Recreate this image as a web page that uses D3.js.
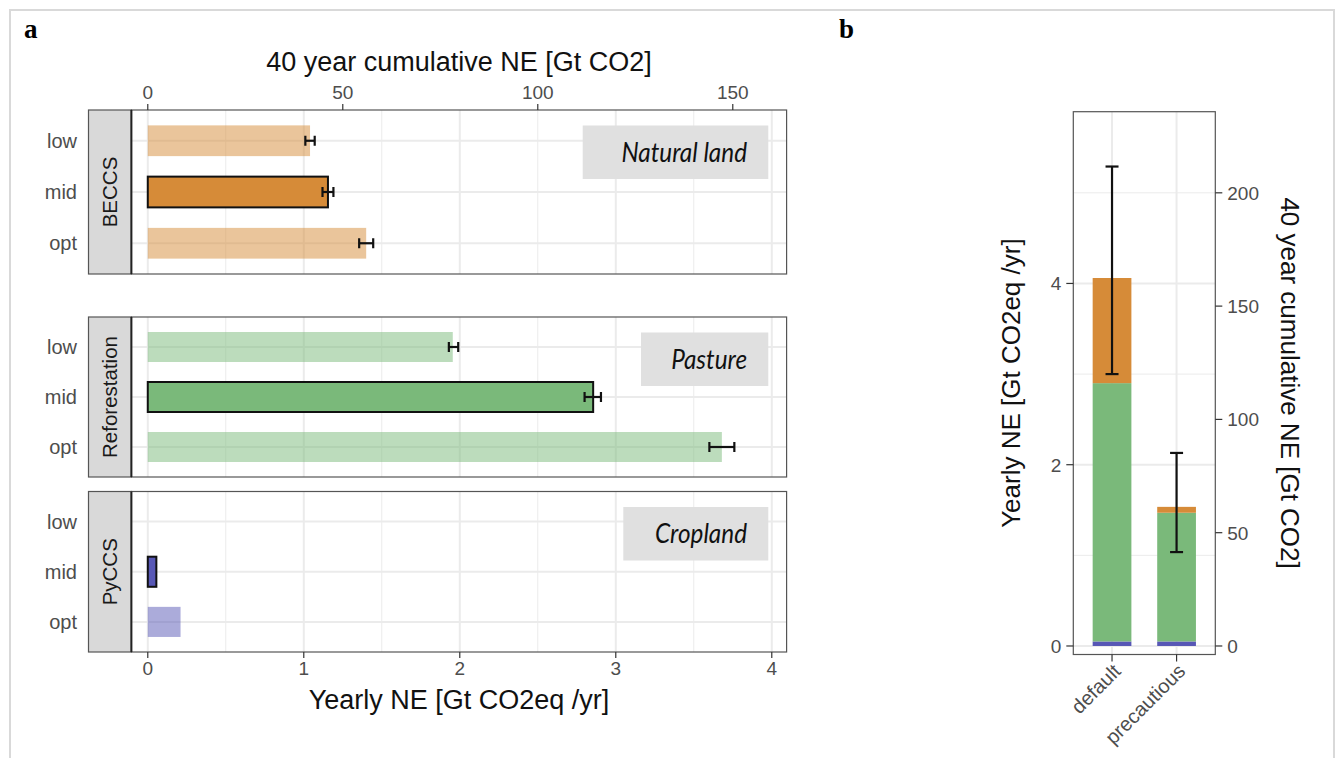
<!DOCTYPE html>
<html><head><meta charset="utf-8">
<script src="https://cdn.jsdelivr.net/npm/d3@7"></script>
<style>body{margin:0;background:#fff}svg{display:block}</style>
</head><body><svg id="c" width="1344" height="758"></svg>
<script>
// ---------- data ----------
const methods = ["BECCS", "Reforestation", "PyCCS"];
const levels = ["low", "mid", "opt"];
const landTypes = ["Natural land", "Pasture", "Cropland"];
const beccsNE = [1.04, 1.155, 1.40];
const beccsLo = [1.01, 1.12, 1.355];
const beccsHi = [1.07, 1.19, 1.445];
const reforNE = [1.955, 2.855, 3.68];
const reforLo = [1.93, 2.80, 3.60];
const reforHi = [1.99, 2.905, 3.76];
const pyccsNE = [0, 0.055, 0.21];
const pyccsLo = [null, null, null];
const pyccsHi = [null, null, null];
const yearlyTicks = [0, 1, 2, 3, 4];
const cumulTicks = [0, 50, 100, 150];
const scenarios = ["default", "precautious"];
const stackPyCCS = [0.05, 0.05];
const stackRefor = [2.85, 1.42];
const stackBECCS = [1.16, 0.065];
const totalLo = [3.0, 1.036];
const totalHi = [5.29, 2.13];
const bYearlyTicks = [0, 2, 4];
const bCumulTicks = [0, 50, 100, 150, 200];
const years = 40;
const titleYearly = "Yearly NE [Gt CO2eq /yr]";
const titleCumul = "40 year cumulative NE [Gt CO2]";

// ---------- styles ----------
const colors = {BECCS: "#D68B38", Reforestation: "#7AB97A", PyCCS: "#5757B5"};
const SANS = "'Liberation Sans', Arial, Helvetica, sans-serif";
const GRID = "#EBEBEB", BORDER = "#333333", TICKTXT = "#4D4D4D";

const svg = d3.select("#c");
svg.append("rect").attr("x", 10).attr("y", 10).attr("width", 1324).attr("height", 770)
  .attr("fill", "none").attr("stroke", "#D9D9D9").attr("stroke-width", 2);

// panel letters
svg.append("text").attr("x", 24).attr("y", 38).text("a")
  .attr("font-family", "'Liberation Serif', 'DejaVu Serif', serif").attr("font-weight", "bold").attr("font-size", 27);
svg.append("text").attr("x", 839).attr("y", 38).text("b")
  .attr("font-family", "'Liberation Serif', 'DejaVu Serif', serif").attr("font-weight", "bold").attr("font-size", 27);

// ================= PANEL A =================
const A = {left: 131.4, right: 786.6, strip: 88.5,
  panels: [[110, 274], [317, 477], [491.5, 652]]};
const xA = d3.scaleLinear().domain([-0.105, 4.095]).range([A.left, A.right]);
const xAcum = d3.scaleLinear().domain(xA.domain().map(d => d * years)).range(xA.range());

const facetData = [
  {m: "BECCS", ne: beccsNE, lo: beccsLo, hi: beccsHi, land: landTypes[0]},
  {m: "Reforestation", ne: reforNE, lo: reforLo, hi: reforHi, land: landTypes[1]},
  {m: "PyCCS", ne: pyccsNE, lo: pyccsLo, hi: pyccsHi, land: landTypes[2]}
];
const boxLeft = [582.7, 641, 623.3];
const boxRight = 768.3;

facetData.forEach((f, i) => {
  const [top, bot] = A.panels[i];
  const y = d3.scaleBand().domain(levels).range([top, bot]).paddingInner(0.4).paddingOuter(0.3);
  const g = svg.append("g");
  g.append("rect").attr("x", A.left).attr("y", top).attr("width", A.right - A.left).attr("height", bot - top).attr("fill", "#fff");
  const minors = d3.range(0.5, 4, 1);
  g.selectAll(".mn").data(minors).join("line")
    .attr("x1", d => xA(d)).attr("x2", d => xA(d)).attr("y1", top).attr("y2", bot)
    .attr("stroke", GRID).attr("stroke-width", 1);
  g.selectAll(".mj").data(yearlyTicks).join("line")
    .attr("x1", d => xA(d)).attr("x2", d => xA(d)).attr("y1", top).attr("y2", bot)
    .attr("stroke", GRID).attr("stroke-width", 2);
  g.selectAll(".hy").data(levels).join("line")
    .attr("x1", A.left).attr("x2", A.right)
    .attr("y1", d => y(d) + y.bandwidth() / 2).attr("y2", d => y(d) + y.bandwidth() / 2)
    .attr("stroke", GRID).attr("stroke-width", 2);
  const rows = levels.map((l, k) => ({l, v: f.ne[k], lo: f.lo[k], hi: f.hi[k]}));
  g.selectAll(".bar").data(rows).join("rect")
    .attr("x", xA(0)).attr("y", d => y(d.l))
    .attr("width", d => Math.max(0, xA(d.v) - xA(0))).attr("height", y.bandwidth())
    .attr("fill", colors[f.m])
    .attr("fill-opacity", d => d.l === "mid" ? 1 : 0.5)
    .attr("stroke", d => d.l === "mid" && d.v > 0 ? "#111" : "none")
    .attr("stroke-width", 2);
  const eb = rows.filter(d => d.lo != null);
  const ebg = g.selectAll(".eb").data(eb).join("g").attr("stroke", "#111").attr("stroke-width", 2.2);
  ebg.append("line").attr("x1", d => xA(d.lo)).attr("x2", d => xA(d.hi))
    .attr("y1", d => y(d.l) + y.bandwidth() / 2).attr("y2", d => y(d.l) + y.bandwidth() / 2);
  ebg.append("line").attr("x1", d => xA(d.lo)).attr("x2", d => xA(d.lo))
    .attr("y1", d => y(d.l) + y.bandwidth() / 2 - 5).attr("y2", d => y(d.l) + y.bandwidth() / 2 + 5);
  ebg.append("line").attr("x1", d => xA(d.hi)).attr("x2", d => xA(d.hi))
    .attr("y1", d => y(d.l) + y.bandwidth() / 2 - 5).attr("y2", d => y(d.l) + y.bandwidth() / 2 + 5);
  const cy = (top + bot) / 2;
  const bTop = top + 15.5, bH = 53.5;
  g.append("rect").attr("x", boxLeft[i]).attr("y", bTop).attr("width", boxRight - boxLeft[i]).attr("height", bH).attr("fill", "#E0E0E0");
  g.append("text").text(f.land)
    .attr("transform", `translate(747,${bTop + bH / 2 + 9.5}) scale(0.9,1)`)
    .attr("text-anchor", "end").attr("font-family", "Lato, 'Open Sans', sans-serif")
    .attr("font-style", "italic").attr("font-size", 27).attr("fill", "#111");
  g.append("rect").attr("x", A.left).attr("y", top).attr("width", A.right - A.left).attr("height", bot - top)
    .attr("fill", "none").attr("stroke", "#555").attr("stroke-width", 1.2);
  g.append("rect").attr("x", A.strip).attr("y", top).attr("width", A.left - A.strip).attr("height", bot - top)
    .attr("fill", "#D9D9D9").attr("stroke", "#555").attr("stroke-width", 1.2);
  g.append("line").attr("x1", A.left).attr("x2", A.left).attr("y1", top).attr("y2", bot)
    .attr("stroke", "#222").attr("stroke-width", 2);
  g.append("text").text(f.m)
    .attr("transform", `translate(${(A.strip + A.left) / 2 + 7.5},${cy}) rotate(-90)`)
    .attr("text-anchor", "middle").attr("font-family", SANS).attr("font-size", 20.5).attr("fill", "#1A1A1A");
  g.selectAll(".rl").data(levels).join("text").text(d => d)
    .attr("x", 77).attr("y", d => y(d) + y.bandwidth() / 2 + 7)
    .attr("text-anchor", "end").attr("font-family", SANS).attr("font-size", 20).attr("fill", TICKTXT);
});

// bottom axis
const botY = A.panels[2][1];
svg.selectAll(".bt").data(yearlyTicks).join("line")
  .attr("x1", d => xA(d)).attr("x2", d => xA(d)).attr("y1", botY).attr("y2", botY + 6)
  .attr("stroke", BORDER).attr("stroke-width", 1.2);
svg.selectAll(".btl").data(yearlyTicks).join("text").text(d => d)
  .attr("x", d => xA(d)).attr("y", botY + 23).attr("text-anchor", "middle")
  .attr("font-family", SANS).attr("font-size", 19).attr("fill", TICKTXT);
svg.append("text").text(titleYearly).attr("x", (A.left + A.right) / 2).attr("y", botY + 57)
  .attr("text-anchor", "middle").attr("font-family", SANS).attr("font-size", 27).attr("fill", "#111");
// top axis
const topY = A.panels[0][0];
svg.selectAll(".tt").data(cumulTicks).join("line")
  .attr("x1", d => xAcum(d)).attr("x2", d => xAcum(d)).attr("y1", topY - 6).attr("y2", topY)
  .attr("stroke", BORDER).attr("stroke-width", 1.2);
svg.selectAll(".ttl").data(cumulTicks).join("text").text(d => d)
  .attr("x", d => xAcum(d)).attr("y", topY - 11).attr("text-anchor", "middle")
  .attr("font-family", SANS).attr("font-size", 19).attr("fill", TICKTXT);
svg.append("text").text(titleCumul).attr("x", (A.left + A.right) / 2).attr("y", 71)
  .attr("text-anchor", "middle").attr("font-family", SANS).attr("font-size", 27).attr("fill", "#111");

// ================= PANEL B =================
const B = {left: 1073.3, right: 1215.3, top: 111.7, bottom: 654.5};
const xB = d3.scaleBand().domain(scenarios).range([B.left, B.right]).paddingInner(0.4).paddingOuter(0.3);
const yB = d3.scaleLinear().domain([-0.094, 5.895]).range([B.bottom, B.top]);
const yBcum = d3.scaleLinear().domain(yB.domain().map(d => d * years)).range(yB.range());
const gb = svg.append("g");
gb.append("rect").attr("x", B.left).attr("y", B.top).attr("width", B.right - B.left).attr("height", B.bottom - B.top).attr("fill", "#fff");
gb.selectAll(".mn").data([1, 3, 5]).join("line")
  .attr("x1", B.left).attr("x2", B.right).attr("y1", d => yB(d)).attr("y2", d => yB(d))
  .attr("stroke", GRID).attr("stroke-width", 1);
gb.selectAll(".mj").data(bYearlyTicks).join("line")
  .attr("x1", B.left).attr("x2", B.right).attr("y1", d => yB(d)).attr("y2", d => yB(d))
  .attr("stroke", GRID).attr("stroke-width", 2);
gb.selectAll(".vx").data(scenarios).join("line")
  .attr("x1", d => xB(d) + xB.bandwidth() / 2).attr("x2", d => xB(d) + xB.bandwidth() / 2)
  .attr("y1", B.top).attr("y2", B.bottom).attr("stroke", GRID).attr("stroke-width", 2);

const stackRows = scenarios.map((s, i) => ({s, PyCCS: stackPyCCS[i], Reforestation: stackRefor[i], BECCS: stackBECCS[i]}));
const stack = d3.stack().keys(["PyCCS", "Reforestation", "BECCS"])(stackRows);
gb.selectAll(".layer").data(stack).join("g").attr("fill", d => colors[d.key])
  .selectAll("rect").data(d => d).join("rect")
  .attr("x", d => xB(d.data.s)).attr("width", xB.bandwidth())
  .attr("y", d => yB(d[1])).attr("height", d => yB(d[0]) - yB(d[1]));

const ebB = scenarios.map((s, i) => ({s, lo: totalLo[i], hi: totalHi[i]}));
const ebgB = gb.selectAll(".eb").data(ebB).join("g").attr("stroke", "#111").attr("stroke-width", 2.2);
const cxB = d => xB(d.s) + xB.bandwidth() / 2;
ebgB.append("line").attr("x1", cxB).attr("x2", cxB).attr("y1", d => yB(d.lo)).attr("y2", d => yB(d.hi));
ebgB.append("line").attr("x1", d => cxB(d) - 6.5).attr("x2", d => cxB(d) + 6.5).attr("y1", d => yB(d.lo)).attr("y2", d => yB(d.lo));
ebgB.append("line").attr("x1", d => cxB(d) - 6.5).attr("x2", d => cxB(d) + 6.5).attr("y1", d => yB(d.hi)).attr("y2", d => yB(d.hi));

gb.append("rect").attr("x", B.left).attr("y", B.top).attr("width", B.right - B.left).attr("height", B.bottom - B.top)
  .attr("fill", "none").attr("stroke", "#555").attr("stroke-width", 1.2);

gb.selectAll(".lt").data(bYearlyTicks).join("line")
  .attr("x1", B.left - 7).attr("x2", B.left).attr("y1", d => yB(d)).attr("y2", d => yB(d))
  .attr("stroke", BORDER).attr("stroke-width", 1.2);
gb.selectAll(".ltl").data(bYearlyTicks).join("text").text(d => d)
  .attr("x", B.left - 12).attr("y", d => yB(d) + 7).attr("text-anchor", "end")
  .attr("font-family", SANS).attr("font-size", 19).attr("fill", TICKTXT);
gb.selectAll(".rt").data(bCumulTicks).join("line")
  .attr("x1", B.right).attr("x2", B.right + 7).attr("y1", d => yBcum(d)).attr("y2", d => yBcum(d))
  .attr("stroke", BORDER).attr("stroke-width", 1.2);
gb.selectAll(".rtl").data(bCumulTicks).join("text").text(d => d)
  .attr("x", B.right + 12).attr("y", d => yBcum(d) + 7).attr("text-anchor", "start")
  .attr("font-family", SANS).attr("font-size", 19).attr("fill", TICKTXT);
gb.selectAll(".xt").data(scenarios).join("line")
  .attr("x1", d => xB(d) + xB.bandwidth() / 2).attr("x2", d => xB(d) + xB.bandwidth() / 2)
  .attr("y1", B.bottom).attr("y2", B.bottom + 7).attr("stroke", BORDER).attr("stroke-width", 1.2);
gb.selectAll(".xtl").data(scenarios).join("text").text(d => d)
  .attr("transform", d => `translate(${xB(d) + xB.bandwidth() / 2 + 10},${B.bottom + 18}) rotate(-45)`)
  .attr("text-anchor", "end").attr("font-family", SANS).attr("font-size", 20).attr("fill", TICKTXT);
const cyB = (B.top + B.bottom) / 2;
gb.append("text").text(titleYearly)
  .attr("transform", `translate(1020,${cyB}) rotate(-90)`).attr("text-anchor", "middle")
  .attr("font-family", SANS).attr("font-size", 26).attr("fill", "#111");
gb.append("text").text(titleCumul)
  .attr("transform", `translate(1281,${cyB}) rotate(90)`).attr("text-anchor", "middle")
  .attr("font-family", SANS).attr("font-size", 26).attr("fill", "#111");
</script></body></html>
